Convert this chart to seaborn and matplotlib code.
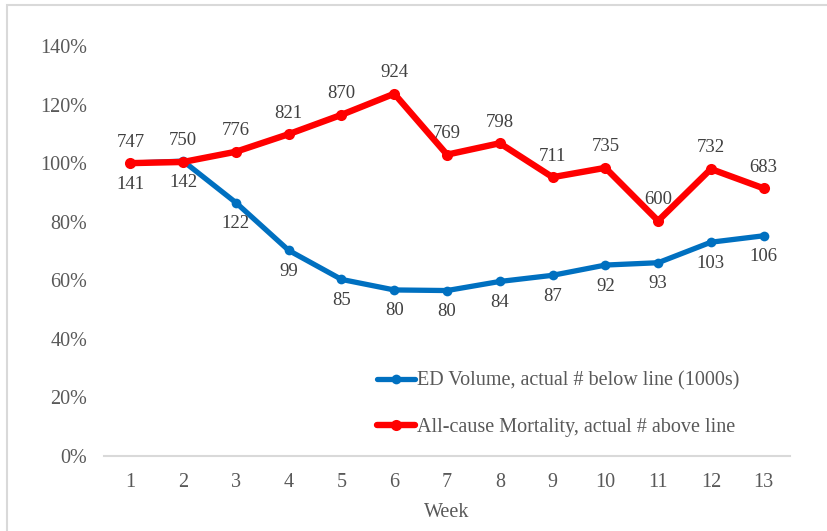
import pandas as pd
import seaborn as sns
import matplotlib.pyplot as plt
from matplotlib.patches import Rectangle
from matplotlib.ticker import PercentFormatter

# Données
weeks = list(range(1, 14))
ed_pct = [1.000, 1.007, 0.865, 0.702, 0.603, 0.567, 0.565, 0.596, 0.617, 0.652, 0.660, 0.730, 0.752]
ed_labels = [141, 142, 122, 99, 85, 80, 80, 84, 87, 92, 93, 103, 106]
mort_pct = [1.000, 1.004, 1.039, 1.099, 1.165, 1.237, 1.029, 1.068, 0.952, 0.984, 0.803, 0.980, 0.914]
mort_labels = [747, 750, 776, 821, 870, 924, 769, 798, 711, 735, 600, 732, 683]
ed_name = 'ED Volume, actual # below line (1000s)'
mort_name = 'All-cause Mortality, actual # above line'

sns.set_style('white')
plt.rcParams['font.family'] = ['Liberation Serif', 'DejaVu Serif']

fig = plt.figure(figsize=(8.27, 5.31), dpi=100)
ax = fig.add_axes([0.1258, 0.1412, 0.8295, 0.7722])

df_ed = pd.DataFrame({'Week': weeks, 'pct': ed_pct})
df_mort = pd.DataFrame({'Week': weeks, 'pct': mort_pct})

sns.lineplot(data=df_ed, x='Week', y='pct', ax=ax, color='#0070C0', linewidth=3.8,
             marker='o', markersize=7, markeredgewidth=0, label=ed_name)
sns.lineplot(data=df_mort, x='Week', y='pct', ax=ax, color='#FF0000', linewidth=4.6,
             marker='o', markersize=8, markeredgewidth=0, label=mort_name)

# étiquettes de données
for w, p, lab in zip(weeks, ed_pct, ed_labels):
    ax.annotate(str(lab), (w, p), xytext=(0, -21), textcoords='offset pixels',
                ha='center', va='center', fontsize=13.5, color='#404040')
for w, p, lab in zip(weeks, mort_pct, mort_labels):
    ax.annotate(str(lab), (w, p), xytext=(0, 21), textcoords='offset pixels',
                ha='center', va='center', fontsize=13.5, color='#404040')

ax.set_xlim(0.5, 13.5)
ax.set_ylim(0, 1.4)
ax.set_xticks(weeks)
ax.set_yticks([0, 0.2, 0.4, 0.6, 0.8, 1.0, 1.2, 1.4])
ax.yaxis.set_major_formatter(PercentFormatter(1.0, decimals=0))
ax.tick_params(axis='both', length=0, labelsize=14.5, colors='#595959')
ax.tick_params(axis='y', pad=12)
ax.tick_params(axis='x', pad=12)
ax.set_xlabel('Week', fontsize=14.5, color='#595959', labelpad=8)
ax.set_ylabel('')
for s in ['top', 'right', 'left']:
    ax.spines[s].set_visible(False)
ax.spines['bottom'].set_color('#D9D9D9')
ax.spines['bottom'].set_linewidth(1.5)

leg = ax.legend(loc='upper left', bbox_to_anchor=(0.372, 0.25), frameon=False,
                fontsize=14.5, handlelength=1.85, handletextpad=0.1, labelspacing=1.35)
for t in leg.get_texts():
    t.set_color('#595959')

# cadre extérieur (seuls les bords gauche et haut sont visibles)
fig.patches.append(Rectangle((7 / 827, -0.05), 1.1, 1.05 - 5 / 531,
                             transform=fig.transFigure, fill=False,
                             edgecolor='#D9D9D9', linewidth=1.5))

fig.savefig('out.png', dpi=100)
